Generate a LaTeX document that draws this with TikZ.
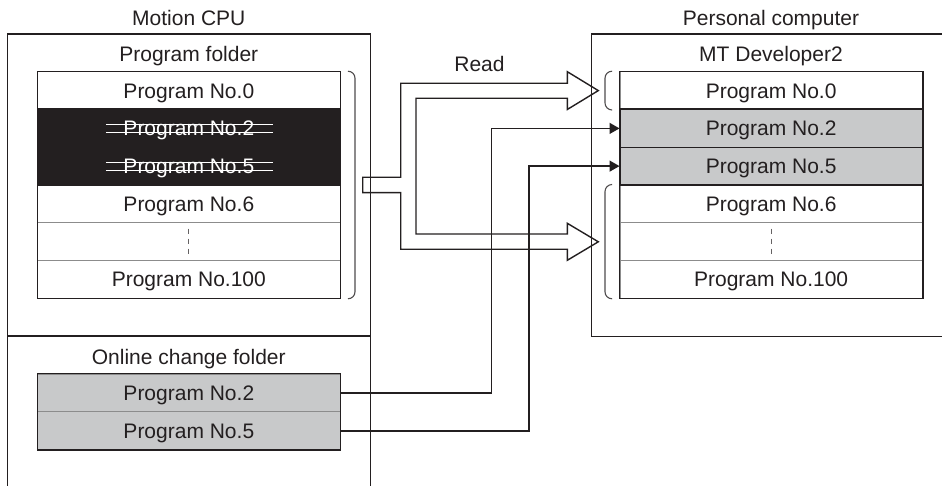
\documentclass[tikz,border=0pt]{standalone}
\usepackage{fontspec}
\setmainfont{Liberation Sans}
\usetikzlibrary{arrows.meta}
\definecolor{ink}{HTML}{231F20}
\definecolor{shade}{HTML}{C8C9CA}
\definecolor{divider}{HTML}{8C8C8C}
\begin{document}
\begin{tikzpicture}[x=1pt,y=-1pt,
  lbl/.style={font=\fontsize{21}{25}\selectfont, text=ink, inner sep=0pt, text height=15.2pt, text depth=0pt},
  row/.style={minimum width=302.3pt, minimum height=37.77pt, inner sep=0pt,
    font=\fontsize{21}{25}\selectfont, text=ink, draw=divider, line width=1pt,
    text height=15.2pt, text depth=0pt},
  whiterow/.style={row, fill=white},
  greyrow/.style={row, fill=shade, draw=ink},
  blackrow/.style={row, fill=ink, draw=ink, text=white},
  frame/.style={draw=ink, line width=1.4pt},
  listframe/.style={draw=ink, line width=1.4pt},
  strike/.style={draw=white, line width=1pt},
  brace/.style={draw=ink!80, line width=1.1pt, rounded corners=7pt},
  dots/.style={draw=ink!70, line width=1pt, dash pattern=on 5.5pt off 4.5pt},
  fat/.style={draw=ink, line width=1.4pt, line join=miter},
  thin/.style={draw=ink, line width=1.4pt, -{Triangle[length=10pt,width=11pt]}},
]
\useasboundingbox (0,0) rectangle (942,486);

% outer boxes
\draw[frame] (7.7,486) -- (7.7,34) -- (370.5,34) -- (370.5,486);
\draw[frame] (7.7,336) -- (370.5,336);
\draw[frame] (942,34) -- (591.7,34) -- (591.7,336.7) -- (942,336.7);

% titles
\node[lbl] (tcpu) at (188.8,17.5) {Motion CPU};
\node[lbl] (tpc) at (771,17.5) {Personal computer};
\node[lbl] (tpf) at (188.8,53.5) {Program folder};
\node[lbl] (tmt) at (771,53.5) {MT Developer2};
\node[lbl] (toc) at (188.8,356.5) {Online change folder};
\node[lbl] (tread) at (479.5,63.5) {Read};

% left list
\node[whiterow] (L0) at (188.85,90.6) {Program No.0};
\node[blackrow] (L2) at (188.85,128.4) {Program No.2};
\node[blackrow] (L5) at (188.85,166.1) {Program No.5};
\node[whiterow] (L6) at (188.85,203.9) {Program No.6};
\node[whiterow] (Ld) at (188.85,241.6) {};
\node[whiterow] (L100) at (188.85,279.4) {Program No.100};
\draw[listframe] (L0.north west) rectangle (L100.south east);
\draw[listframe] (L2.north west) -- (L2.north east);
\draw[listframe] (L5.south west) -- (L5.south east);
\draw[dots] ([yshift=13pt]Ld.center) -- ([yshift=-13pt]Ld.center);
\foreach \n in {L2,L5}{
  \draw[strike] ([xshift=-83pt,yshift=3.4pt]\n.center) -- ([xshift=84pt,yshift=3.4pt]\n.center);
  \draw[strike] ([xshift=-83pt,yshift=-4.5pt]\n.center) -- ([xshift=84pt,yshift=-4.5pt]\n.center);
}

% right list
\node[whiterow] (R0) at (771.15,90.6) {Program No.0};
\node[greyrow] (R2) at (771.15,128.4) {Program No.2};
\node[greyrow] (R5) at (771.15,166.1) {Program No.5};
\node[whiterow] (R6) at (771.15,203.9) {Program No.6};
\node[whiterow] (Rd) at (771.15,241.6) {};
\node[whiterow] (R100) at (771.15,279.4) {Program No.100};
\draw[listframe] (R0.north west) rectangle (R100.south east);
\draw[listframe] (R2.north west) -- (R2.north east);
\draw[listframe] (R5.south west) -- (R5.south east);
\draw[dots] ([yshift=13pt]Rd.center) -- ([yshift=-13pt]Rd.center);

% online change folder
\node[greyrow, draw=divider] (O2) at (188.85,393) {Program No.2};
\node[greyrow, draw=divider] (O5) at (188.85,430.8) {Program No.5};
\draw[listframe] (O2.north west) rectangle (O5.south east);

% brackets
\draw[brace] ([xshift=7.5pt]L0.north east) -- ([xshift=14.5pt]L0.north east) -- ([xshift=14.5pt]L100.south east) -- ([xshift=7.5pt]L100.south east);
\draw[brace] ([xshift=-8pt]R0.north west) -- ([xshift=-14.5pt]R0.north west) -- ([xshift=-14.5pt]R0.south west) -- ([xshift=-8pt]R0.south west);
\draw[brace] ([xshift=-8pt]R6.north west) -- ([xshift=-14.5pt]R6.north west) -- ([xshift=-14.5pt]R100.south west) -- ([xshift=-8pt]R100.south west);

% fat "Read" double arrow
\draw[fat] (362.7,177.3) -- (400.7,177.3) -- (400.7,83.3) -- (567.3,83.3) -- (567.3,71.7)
  -- (598.3,90.6) -- (567.3,109.5) -- (567.3,98.3) -- (416,98.3) -- (416,234)
  -- (567.3,234) -- (567.3,223.3) -- (598.3,241.8) -- (567.3,260.3) -- (567.3,249.3)
  -- (400.7,249.3) -- (400.7,192.7) -- (362.7,192.7) -- cycle;

% thin arrows
\draw[thin] (O2.east) -| ([xshift=-128.3pt]R2.west) -- (R2.west);
\draw[thin] (O5.east) -| ([xshift=-90.7pt]R5.west) -- (R5.west);
\end{tikzpicture}
\end{document}
